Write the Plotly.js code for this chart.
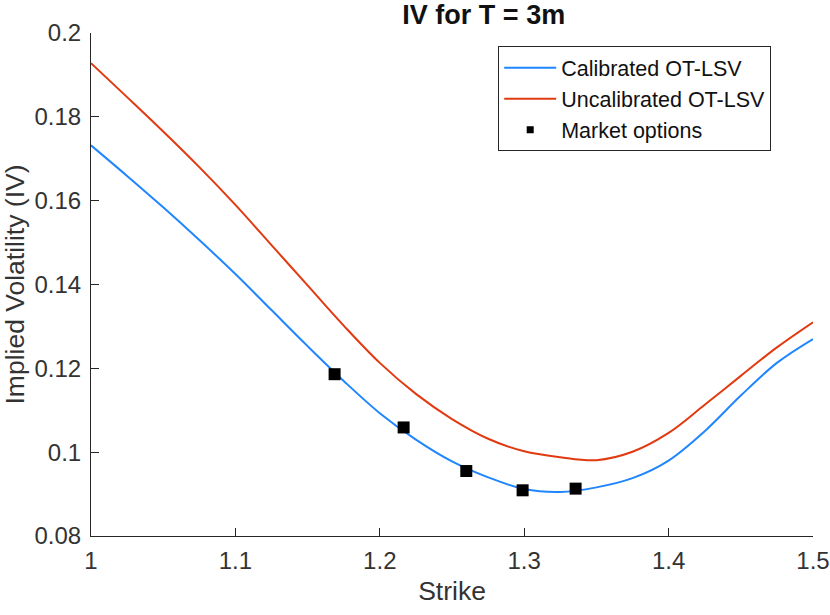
<!DOCTYPE html>
<html>
<head>
<meta charset="utf-8">
<script src="https://cdn.plot.ly/plotly-3.0.1.min.js"></script>
<style>
  html, body { margin: 0; padding: 0; background: #fff; }
  #chart { width: 830px; height: 615px; }
</style>
</head>
<body>
<div id="chart"></div>
<script>
// Strike grid used for both model curves
const strikes = [1.000, 1.025, 1.050, 1.075, 1.100, 1.125, 1.150, 1.175, 1.200, 1.225, 1.250,
                 1.275, 1.300, 1.325, 1.350, 1.375, 1.400, 1.425, 1.450, 1.475, 1.500];

// Calibrated OT-LSV
const calIV = [0.1732, 0.1659, 0.1584, 0.1506, 0.1425, 0.1339, 0.1253, 0.1170, 0.1093, 0.1030, 0.0978,
               0.0940, 0.0912, 0.0905, 0.0916, 0.0938, 0.0980, 0.1050, 0.1135, 0.1213, 0.1270];

// Uncalibrated OT-LSV
const uncIV = [0.1928, 0.1847, 0.1765, 0.1680, 0.1590, 0.1494, 0.1398, 0.1302, 0.1213, 0.1139, 0.1079,
               0.1032, 0.1002, 0.0988, 0.0981, 0.1001, 0.1046, 0.1113, 0.1182, 0.1250, 0.1310];

// Market options
const mktStrike = [1.1687, 1.2165, 1.2599, 1.2989, 1.3356];
const mktIV     = [0.1186, 0.1059, 0.0955, 0.0909, 0.0913];

// Ticks
const xTicks = [1, 1.1, 1.2, 1.3, 1.4, 1.5];
const xTickText = ['1', '1.1', '1.2', '1.3', '1.4', '1.5'];
const yTicks = [0.08, 0.1, 0.12, 0.14, 0.16, 0.18, 0.2];
const yTickText = ['0.08', '0.1', '0.12', '0.14', '0.16', '0.18', '0.2'];

const FONT = '"Liberation Sans", Arial, Helvetica, sans-serif';
const AXIS = '#262626';
const TEXT = '#333';

const traces = [
    {
        x: strikes, y: calIV, type: 'scatter', mode: 'lines',
        line: { color: '#1f86ff', width: 2, shape: 'spline', smoothing: 1 },
        name: 'Calibrated OT-LSV'
    },
    {
        x: strikes, y: uncIV, type: 'scatter', mode: 'lines',
        line: { color: '#e23a10', width: 2, shape: 'spline', smoothing: 1 },
        name: 'Uncalibrated OT-LSV'
    },
    {
        x: mktStrike, y: mktIV, type: 'scatter', mode: 'markers',
        marker: { symbol: 'square', size: 12, color: '#000' },
        name: 'Market options', legendgroup: 'mkt', showlegend: false
    },
    { // legend entry for the market points (small square like the original)
        x: [null], y: [null], type: 'scatter', mode: 'markers',
        marker: { symbol: 'square', size: 7, color: '#000' },
        name: 'Market options', legendgroup: 'mkt'
    }
];

const axisCommon = {
    showline: true, linecolor: AXIS, linewidth: 1,
    mirror: false, showgrid: false, zeroline: false,
    ticks: 'inside', ticklen: 8, tickwidth: 1, tickcolor: AXIS,
    tickfont: { family: FONT, size: 24, color: TEXT },
    automargin: false, fixedrange: true
};

const layout = {
    width: 830, height: 615,
    paper_bgcolor: '#fff', plot_bgcolor: '#fff',
    margin: { l: 91, r: 17, t: 33, b: 79 },
    title: {
        text: '<b>IV for T = 3m</b>',
        font: { family: FONT, size: 27, color: '#111' },
        x: 0.544, xanchor: 'center', xref: 'paper',
        y: 0.976, yanchor: 'middle', yref: 'container'
    },
    xaxis: Object.assign({}, axisCommon, {
        range: [1, 1.5], tickvals: xTicks, ticktext: xTickText,
        ticklabelstandoff: 3,
        title: { text: 'Strike', font: { family: FONT, size: 26.5, color: TEXT }, standoff: 8 }
    }),
    yaxis: Object.assign({}, axisCommon, {
        range: [0.08, 0.2], tickvals: yTicks, ticktext: yTickText,
        ticklabelstandoff: 4,
        title: { text: 'Implied Volatility (IV)', font: { family: FONT, size: 26.5, color: TEXT }, standoff: 5 }
    }),
    showlegend: true,
    legend: {
        x: 0.564, xanchor: 'left', y: 0.9734, yanchor: 'top',
        bgcolor: '#fff', bordercolor: AXIS, borderwidth: 1,
        font: { family: FONT, size: 21.5, color: '#111' },
        itemwidth: 52,
        tracegroupgap: 0
    }
};

Plotly.newPlot('chart', traces, layout, { displayModeBar: false, staticPlot: true });
</script>
</body>
</html>
